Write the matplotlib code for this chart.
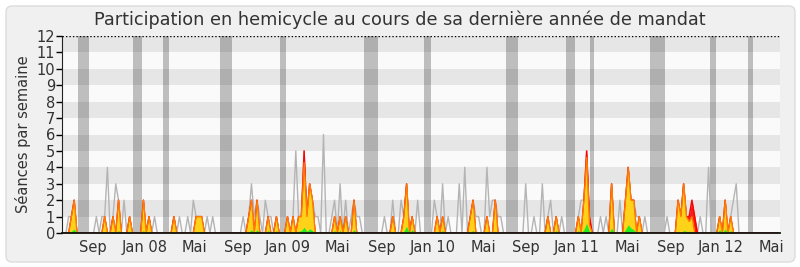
import numpy as np
import matplotlib
matplotlib.use('Agg')
import matplotlib.pyplot as plt
from matplotlib.patches import FancyBboxPatch
from matplotlib.transforms import IdentityTransform

# weekly values, week 0 = mid June 2007
gray = [
    0, 0, 1, 1, 2, 0, 0, 0, 0, 0, 0, 0, 1, 0, 1, 1, 4, 0, 1, 3,
    2, 0, 2, 0, 1, 0, 0, 0, 0, 2, 0, 1, 0, 1, 0, 0, 0, 0, 0, 0,
    1, 0, 1, 0, 0, 1, 0, 2, 1, 1, 1, 0, 1, 0, 1, 0, 0, 0, 0, 0,
    0, 0, 0, 0, 0, 1, 0, 1, 3, 1, 2, 1, 0, 2, 1, 1, 0, 1, 0, 0,
    0, 1, 0, 1, 5, 1, 1, 5, 1, 3, 2, 1, 1, 0, 6, 0, 0, 1, 2, 0,
    3, 0, 2, 0, 1, 2, 1, 1, 0, 0, 0, 0, 0, 0, 0, 0, 1, 0, 0, 2,
    0, 0, 2, 1, 3, 0, 1, 0, 2, 0, 0, 0, 0, 0, 2, 1, 0, 3, 0, 1,
    0, 0, 0, 3, 0, 4, 0, 1, 2, 1, 1, 0, 0, 4, 1, 2, 2, 1, 1, 0,
    0, 0, 0, 0, 0, 0, 0, 3, 0, 0, 1, 0, 0, 3, 0, 1, 2, 0, 1, 0,
    1, 0, 0, 0, 0, 0, 1, 2, 2, 5, 1, 0, 0, 0, 1, 0, 1, 0, 3, 0,
    0, 2, 0, 2, 4, 2, 2, 1, 1, 0, 1, 0, 0, 0, 0, 0, 0, 0, 1, 0,
    0, 0, 2, 1, 3, 1, 1, 2, 1, 0, 1, 0, 0, 4, 0, 0, 0, 1, 0, 2,
    0, 1, 2, 3, 0, 0, 0, 0, 0, 0, 0, 0, 0, 0, 0, 0, 0, 0, 0,
]

presence = [
    0, 0, 0, 1, 2, 0, 0, 0, 0, 0, 0, 0, 0, 0, 0, 1, 0, 0, 1, 0,
    2, 0, 0, 0, 1, 0, 0, 0, 0, 2, 0, 1, 0, 0, 0, 0, 0, 0, 0, 0,
    1, 0, 0, 0, 0, 0, 0, 0, 1, 1, 1, 0, 0, 0, 0, 0, 0, 0, 0, 0,
    0, 0, 0, 0, 0, 0, 0, 1, 2, 0, 2, 0, 0, 0, 1, 0, 0, 1, 0, 0,
    0, 1, 0, 1, 0, 1, 1, 5, 1, 3, 2, 0, 0, 0, 0, 0, 0, 0, 1, 0,
    1, 0, 1, 0, 0, 2, 0, 0, 0, 0, 0, 0, 0, 0, 0, 0, 0, 0, 0, 1,
    0, 0, 0, 1, 3, 0, 1, 0, 0, 0, 0, 0, 0, 0, 0, 1, 0, 1, 0, 0,
    0, 0, 0, 0, 0, 0, 0, 1, 2, 0, 0, 0, 0, 1, 0, 0, 2, 0, 0, 0,
    0, 0, 0, 0, 0, 0, 0, 0, 0, 0, 0, 0, 0, 0, 0, 1, 0, 0, 1, 0,
    0, 0, 0, 0, 0, 0, 1, 0, 2, 5, 1, 0, 0, 0, 0, 0, 0, 0, 3, 0,
    0, 0, 0, 2, 4, 2, 2, 0, 1, 0, 0, 0, 0, 0, 0, 0, 0, 0, 0, 0,
    0, 0, 2, 1, 3, 1, 1, 2, 1, 0, 0, 0, 0, 0, 0, 0, 0, 1, 0, 2,
    0, 1, 0, 0, 0, 0, 0, 0, 0, 0, 0, 0, 0, 0, 0, 0, 0, 0, 0,
]

participation = [
    0, 0, 0, 1, 2, 0, 0, 0, 0, 0, 0, 0, 0, 0, 0, 1, 0, 0, 1, 0,
    2, 0, 0, 0, 1, 0, 0, 0, 0, 2, 0, 1, 0, 0, 0, 0, 0, 0, 0, 0,
    1, 0, 0, 0, 0, 0, 0, 0, 1, 1, 1, 0, 0, 0, 0, 0, 0, 0, 0, 0,
    0, 0, 0, 0, 0, 0, 0, 1, 2, 0, 2, 0, 0, 0, 1, 0, 0, 1, 0, 0,
    0, 1, 0, 1, 0, 1, 1, 4.3, 1, 3, 2, 0, 0, 0, 0, 0, 0, 0, 1, 0,
    1, 0, 1, 0, 0, 2, 0, 0, 0, 0, 0, 0, 0, 0, 0, 0, 0, 0, 0, 1,
    0, 0, 0, 1, 3, 0, 1, 0, 0, 0, 0, 0, 0, 0, 0, 1, 0, 1, 0, 0,
    0, 0, 0, 0, 0, 0, 0, 1, 2, 0, 0, 0, 0, 1, 0, 0, 2, 0, 0, 0,
    0, 0, 0, 0, 0, 0, 0, 0, 0, 0, 0, 0, 0, 0, 0, 1, 0, 0, 1, 0,
    0, 0, 0, 0, 0, 0, 1, 0, 2, 4.6, 0.5, 0, 0, 0, 0, 0, 0, 0, 3, 0,
    0, 0, 0, 2, 4, 2, 2, 0, 1, 0, 0, 0, 0, 0, 0, 0, 0, 0, 0, 0,
    0, 0, 2, 1, 3, 1, 0.7, 1, 0, 0, 0, 0, 0, 0, 0, 0, 0, 1, 0, 2,
    0, 1, 0, 0, 0, 0, 0, 0, 0, 0, 0, 0, 0, 0, 0, 0, 0, 0, 0,
]

interventions = [
    0, 0, 0, .1, .25, 0, 0, 0, 0, 0, 0, 0, 0, 0, 0, .1, 0, 0, .1, 0,
    .15, 0, 0, 0, .1, 0, 0, 0, 0, .15, 0, .1, 0, 0, 0, 0, 0, 0, 0, 0,
    .05, 0, 0, 0, 0, 0, 0, 0, .05, .08, .05, 0, 0, 0, 0, 0, 0, 0, 0, 0,
    0, 0, 0, 0, 0, 0, 0, .05, .2, 0, .2, 0, 0, 0, .15, 0, 0, .15, 0, 0,
    0, .1, 0, .1, 0, .1, .15, .35, .1, .25, .15, 0, 0, 0, 0, 0, 0, 0, .15, 0,
    .15, 0, .1, 0, 0, .2, 0, 0, 0, 0, 0, 0, 0, 0, 0, 0, 0, 0, 0, .1,
    0, 0, 0, .1, .4, 0, .2, 0, 0, 0, 0, 0, 0, 0, 0, .1, 0, .15, 0, 0,
    0, 0, 0, 0, 0, 0, 0, .05, .15, 0, 0, 0, 0, .1, 0, 0, .1, 0, 0, 0,
    0, 0, 0, 0, 0, 0, 0, 0, 0, 0, 0, 0, 0, 0, 0, .1, 0, 0, .15, 0,
    0, 0, 0, 0, 0, 0, .15, 0, .2, .6, .1, 0, 0, 0, 0, 0, 0, 0, .3, 0,
    0, 0, 0, .2, .5, .3, .2, 0, .1, 0, 0, 0, 0, 0, 0, 0, 0, 0, 0, 0,
    0, 0, .1, 0, .15, .1, .1, .1, 0, 0, 0, 0, 0, 0, 0, 0, 0, .2, 0, .25,
    0, .15, 0, 0, 0, 0, 0, 0, 0, 0, 0, 0, 0, 0, 0, 0, 0, 0, 0,
]

# parliamentary recess periods (start week, end week)
vacances = [(5.4, 9.4), (25.2, 28.5), (36.1, 38.2), (56.6, 60.9), (78.3, 80.5),
            (108.6, 113.7), (130.3, 132.8), (159.9, 164.3), (181.5, 184.8),
            (190.2, 191.6), (211.9, 217.4), (233.5, 235.7), (247.4, 249.0)]

tick_labels = ['Sep', 'Jan 08', 'Mai', 'Sep', 'Jan 09', 'Mai', 'Sep', 'Jan 10',
               'Mai', 'Sep', 'Jan 11', 'Mai', 'Sep', 'Jan 12', 'Mai']
tick_weeks = [10.8, 29.4, 47.3, 63.1, 81.2, 99.2, 115.1, 133.5, 151.6, 167.1,
              185.5, 203.6, 219.5, 237.5, 255.6]

weeks = np.arange(len(gray))

fig = plt.figure(figsize=(8, 2.67), dpi=100)
panel = FancyBboxPatch((6, 5), 789, 256, boxstyle='round,pad=0,rounding_size=6',
                       transform=IdentityTransform(), facecolor='#f0f0f0',
                       edgecolor='#dcdcdc', linewidth=1, zorder=-10)
fig.patches.append(panel)

ax = fig.add_axes([62 / 800, 34 / 267, 718 / 800, 197 / 267])
ax.set_facecolor('#fafafa')
for y in range(1, 12, 2):
    ax.axhspan(y, y + 1, color='#e6e6e6', lw=0, zorder=0)
for a, b in vacances:
    ax.axvspan(a, b, color='black', alpha=0.24, lw=0, zorder=1)

ax.plot(weeks, gray, color='#b4b4b4', lw=1, zorder=2)
ax.fill_between(weeks, presence, color='#ff1a1a', lw=0, zorder=3)
ax.plot(weeks, presence, color='#ff0000', lw=1, zorder=3)
ax.fill_between(weeks, participation, color='#ffd21a', lw=0, zorder=4)
ax.plot(weeks, participation, color='#ff7a00', lw=0.9, zorder=4)
ax.fill_between(weeks, interventions, color='#22ee22', lw=0, zorder=5)

ax.axhline(12, color='black', lw=1, ls=(0, (1, 1.5)), zorder=6)
ax.set_xlim(-0.4, 258.8)
ax.set_ylim(0, 12)
ax.set_yticks(range(13))
ax.set_xticks(tick_weeks)
ax.set_xticklabels(tick_labels)
ax.tick_params(axis='x', length=0, pad=5, labelsize=10.5, labelcolor='#333333')
ax.tick_params(axis='y', length=4, width=1, pad=1, labelsize=10.5, labelcolor='#333333')
for side in ['top', 'right']:
    ax.spines[side].set_visible(False)
ax.spines['left'].set_color('#222222')
ax.spines['bottom'].set_color('#111111')
ax.spines['bottom'].set_linewidth(1.3)
ax.spines['bottom'].set_zorder(7)
ax.set_ylabel('Séances par semaine', fontsize=10.5, color='#333333', labelpad=4)

fig.text(0.5, 0.925, 'Participation en hemicycle au cours de sa dernière année de mandat',
         ha='center', va='center', fontsize=12.7, color='#333333')

fig.savefig('out.png', dpi=100)
